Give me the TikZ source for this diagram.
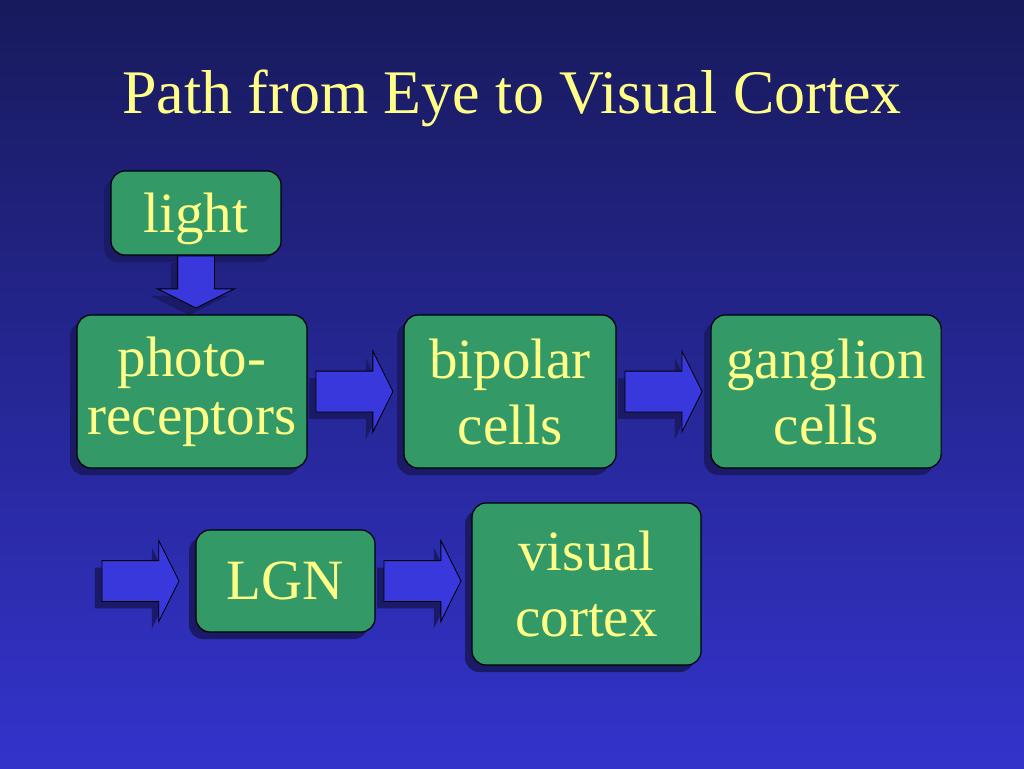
\documentclass[tikz,border=0pt]{standalone}
\usepackage{fontspec}
\setmainfont{Liberation Serif}
\usetikzlibrary{positioning,shapes.arrows,shadows}
\definecolor{slidetop}{HTML}{181A5C}
\definecolor{slidebot}{HTML}{3333CC}
\definecolor{boxgreen}{HTML}{339966}
\definecolor{txtyellow}{HTML}{FFFF88}
\definecolor{arrowblue}{HTML}{3838DD}
\definecolor{shadowblue}{HTML}{1A1A66}
\newcommand{\boxfont}{\fontsize{57}{66}\selectfont}

\begin{document}
\begin{tikzpicture}[
    x=1pt, y=-1pt,
    box/.style = {rectangle, rounded corners=14pt, draw=black, line width=1.2pt, fill=boxgreen, text=txtyellow, align=center, inner sep=0pt, font=\boxfont, drop shadow={shadow xshift=-7pt, shadow yshift=-7pt, fill=shadowblue, opacity=1}},
    blockarrow/.style = {single arrow, draw=black, line width=0.8pt, fill=arrowblue, inner sep=20pt, minimum width=80pt, single arrow head extend=20pt, single arrow tip angle=127, minimum height=77pt, drop shadow={shadow xshift=-7pt, shadow yshift=-7pt, fill=shadowblue, opacity=1}}
  ]
  % slide background
  \shade[top color=slidetop, bottom color=slidebot] (0,0) rectangle (1024,768);
  \node[anchor=base, text=txtyellow, font=\fontsize{62}{70}\selectfont] (title) at (512,113) {Path from Eye to Visual Cortex};

  % first row
  \node[box, minimum width=170pt, minimum height=84pt, text depth=0pt] (light) at (196,213) {light};
  \node[blockarrow, shape border rotate=270, anchor=tail, inner sep=18pt, minimum height=52pt, minimum width=76pt] (a0) at (light.south) {};
  \node[box, minimum width=230pt, minimum height=153pt, font=\fontsize{57}{58}\selectfont] (pr) at (192,391.5) {photo-\\receptors};
  \node[blockarrow, right=8pt of pr] (a1) {};
  \node[box, minimum width=212pt, minimum height=153pt, right=10pt of a1] (bp) {bipolar\\cells};
  \node[blockarrow, right=8pt of bp] (a2) {};
  \node[box, minimum width=230pt, minimum height=153pt, right=8pt of a2] (gc) {ganglion\\cells};

  % second row
  \node[box, minimum width=179pt, minimum height=102pt] (lgn) at (285.5,581) {LGN};
  \node[blockarrow, left=16pt of lgn] (a3) {};
  \node[blockarrow, right=8pt of lgn] (a4) {};
  \node[box, minimum width=229pt, minimum height=162pt, right=10pt of a4, yshift=-3pt] (vc) {visual\\cortex};
\end{tikzpicture}
\end{document}
